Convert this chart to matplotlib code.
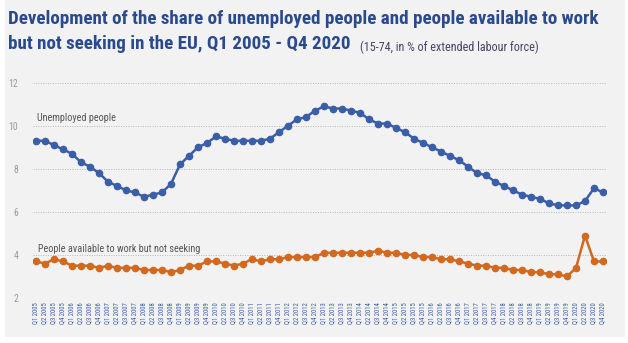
import matplotlib
matplotlib.use('Agg')
import matplotlib.pyplot as plt
from matplotlib import font_manager
from matplotlib.patches import Rectangle

# Kvartaler Q1 2005 - Q4 2020
years = list(range(2005, 2021))
quarters = [f"Q{q} {y}" for y in years for q in range(1, 5)]

unemployed = [9.3, 9.3, 9.1, 8.9, 8.7, 8.3, 8.1, 7.8, 7.4, 7.2, 7.0, 6.9, 6.7, 6.8, 6.9, 7.3,
              8.2, 8.6, 9.0, 9.2, 9.5, 9.4, 9.3, 9.3, 9.3, 9.3, 9.4, 9.7, 10.0, 10.3, 10.4, 10.7,
              10.9, 10.8, 10.8, 10.7, 10.6, 10.3, 10.1, 10.1, 9.9, 9.7, 9.4, 9.2, 9.0, 8.8, 8.6, 8.4,
              8.1, 7.8, 7.7, 7.4, 7.2, 7.0, 6.8, 6.7, 6.6, 6.4, 6.3, 6.3, 6.3, 6.5, 7.1, 6.9]

not_seeking = [3.7, 3.6, 3.8, 3.7, 3.5, 3.5, 3.5, 3.4, 3.5, 3.4, 3.4, 3.4, 3.3, 3.3, 3.3, 3.2,
               3.3, 3.5, 3.5, 3.7, 3.7, 3.6, 3.5, 3.6, 3.8, 3.7, 3.8, 3.8, 3.9, 3.9, 3.9, 3.9,
               4.1, 4.1, 4.1, 4.1, 4.1, 4.1, 4.2, 4.1, 4.1, 4.0, 4.0, 3.9, 3.9, 3.8, 3.8, 3.7,
               3.6, 3.5, 3.5, 3.4, 3.4, 3.3, 3.3, 3.2, 3.2, 3.1, 3.1, 3.0, 3.4, 4.9, 3.7, 3.7]

y_ticks = [2, 4, 6, 8, 10, 12]

BLUE = '#3b5ea9'
ORANGE = '#d2691f'
TITLE_BLUE = '#2a4a8e'
BG = '#f2f2f2'

# finn en smal skrift om den finnes
names = {(f.name, f.stretch) for f in font_manager.fontManager.ttflist}
NARROW = dict(family='DejaVu Sans')
for cand in ['Liberation Sans Narrow', 'Roboto Condensed', 'Open Sans Condensed']:
    if any(n == cand for n, _ in names):
        NARROW = dict(family=cand)
        break
else:
    if ('DejaVu Sans', 'condensed') in names:
        NARROW = dict(family='DejaVu Sans', fontstretch='condensed')

fig = plt.figure(figsize=(6.28, 3.43), dpi=100, facecolor='white')
fig.patches.append(Rectangle((0.008, 0.018), 0.987, 0.982, transform=fig.transFigure,
                             facecolor=BG, edgecolor='none', zorder=-1))

ax = fig.add_axes([0.053, 0.1312, 0.9115, 0.6278])
ax.patch.set_alpha(0)

x = list(range(len(quarters)))
ax.plot(x, unemployed, color=BLUE, lw=1.8, marker='o', ms=4.5, zorder=3)
ax.plot(x, not_seeking, color=ORANGE, lw=1.8, marker='o', ms=4.5, zorder=3)

ax.set_xlim(-0.3, len(quarters) - 0.7)
ax.set_ylim(2, 12)
ax.set_yticks(y_ticks)
ax.set_yticklabels([str(v) for v in y_ticks], color='#9a9a9a', fontsize=7, **NARROW)
ax.yaxis.grid(True, linestyle=(0, (1, 1.5)), color='#b5b5b5', lw=0.7)
ax.set_axisbelow(True)
for s in ax.spines.values():
    s.set_visible(False)
ax.tick_params(axis='y', length=0, pad=11)
ax.tick_params(axis='x', length=0, pad=3)
ax.set_xticks(x)
ax.set_xticklabels(quarters, rotation=90, fontsize=4.8, color='#3b5ea9', **NARROW)

ax.text(0.1, 10.2, 'Unemployed people', fontsize=7.3, color='#555555', **NARROW)
ax.text(0.2, 4.15, 'People available to work but not seeking', fontsize=7.3, color='#555555', **NARROW)

t1 = fig.text(0.013, 0.945, 'Development of the share of unemployed people and people available to work',
              fontsize=12, fontweight='bold', color=TITLE_BLUE, va='center', **NARROW)
t2 = fig.text(0.013, 0.872, 'but not seeking in the EU, Q1 2005 - Q4 2020',
              fontsize=12, fontweight='bold', color=TITLE_BLUE, va='center', **NARROW)
sub = fig.text(346 / 628, 0.863, '(15-74, in % of extended labour force)',
               fontsize=6, color='#444466', va='center', **NARROW)

# tilpass tekstbredder til referansen
renderer = fig.canvas.get_renderer()
size = 12 * 591 / t1.get_window_extent(renderer).width
t1.set_fontsize(size)
t2.set_fontsize(size)
sub.set_fontsize(6 * 179 / sub.get_window_extent(renderer).width)
sub.set_x((t2.get_window_extent(renderer).x1 + 9) / 628)

fig.savefig('out.png', dpi=100, facecolor='white')
